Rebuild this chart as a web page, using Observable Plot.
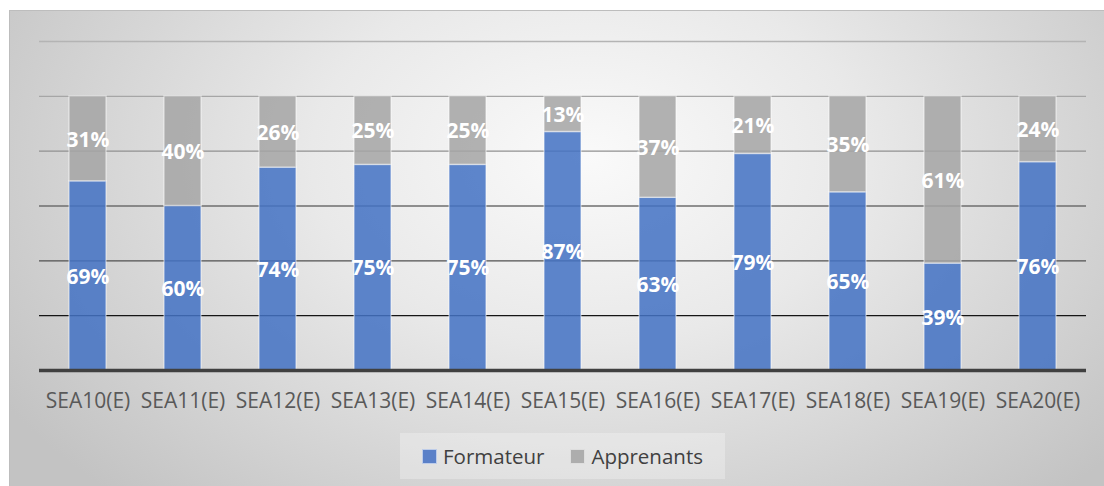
<!DOCTYPE html>
<html>
<head>
<meta charset="utf-8">
<script src="https://cdn.jsdelivr.net/npm/d3@7"></script>
<script src="https://cdn.jsdelivr.net/npm/@observablehq/plot@0.6"></script>
<style>
  html, body { margin: 0; padding: 0; background: #ffffff; }
  body { width: 1104px; height: 486px; overflow: hidden; position: relative; font-family: "Open Sans", sans-serif; }
  #frame {
    position: absolute; left: 9px; top: 10px; width: 1110px; height: 490px;
    border: 1px solid #bdbdbd; box-sizing: border-box;
    background: radial-gradient(ellipse 62% 95% at 52% 30%, #fafafa 0%, #e9e9e9 40%, #d6d6d6 70%, #c3c3c3 100%);
  }
  #chart { position: absolute; left: 0; top: 0; }
  #legend {
    position: absolute; left: 400px; top: 433px; width: 325px; height: 46px;
    background: rgba(255,255,255,0.28);
    display: flex; align-items: center; justify-content: center; gap: 26px;
    font-size: 20.5px; color: #404040;
  }
  .item { display: flex; align-items: center; gap: 6px; }
  .sw { width: 13px; height: 13px; border: 1px solid rgba(255,255,255,0.6); }
</style>
</head>
<body>
<div id="frame"></div>
<div id="chart"></div>
<div id="legend"></div>
<script>
const categories = ["SEA10(E)", "SEA11(E)", "SEA12(E)", "SEA13(E)", "SEA14(E)", "SEA15(E)", "SEA16(E)", "SEA17(E)", "SEA18(E)", "SEA19(E)", "SEA20(E)"];
const seriesNames = ["Formateur", "Apprenants"];
const formateur = [69, 60, 74, 75, 75, 87, 63, 79, 65, 39, 76];
const apprenants = [31, 40, 26, 25, 25, 13, 37, 21, 35, 61, 24];
const gridTicks = [0.2, 0.4, 0.6, 0.8, 1.0, 1.2];

const colors = {Formateur: "#4472C4", Apprenants: "#A5A5A5"};
const gridColor = v => ({0.2: "#151515", 0.4: "#505050", 0.6: "#6e6e6e", 0.8: "#909090", 1: "#a6a6a6", 1.2: "#b4b4b4"})[Math.round(v * 10) / 10];

const rows = [];
categories.forEach((c, i) => rows.push({cat: c, series: "Formateur", value: formateur[i] / 100}));
categories.forEach((c, i) => rows.push({cat: c, series: "Apprenants", value: apprenants[i] / 100}));

const plot = Plot.plot({
  width: 1104,
  height: 430,
  marginLeft: 39,
  marginRight: 18,
  marginTop: 41,
  marginBottom: 60,
  style: {background: "transparent", fontFamily: "'Open Sans', sans-serif", overflow: "visible"},
  x: {domain: categories, paddingInner: 0.61, paddingOuter: 0.305, label: null},
  y: {domain: [0, 1.2], axis: null},
  color: {domain: seriesNames, range: [colors.Formateur, colors.Apprenants]},
  marks: [
    Plot.ruleY(gridTicks, {stroke: d => gridColor(d), strokeWidth: 1.4}),
    Plot.barY(rows, Plot.stackY({x: "cat", y: "value", z: "series", fill: "series", fillOpacity: 0.86, stroke: "#ffffff", strokeOpacity: 0.45, strokeWidth: 1.5})),
    Plot.ruleY([0], {stroke: "#404040", strokeWidth: 3.5}),
    Plot.text(rows, Plot.stackY({x: "cat", y: "value", z: "series", text: d => Math.round(d.value * 100) + "%", fill: "#ffffff", fontSize: 21, fontWeight: "bold", dy: 1})),
    Plot.axisX({tickSize: 0, tickPadding: 23, fontSize: 21, fill: "#595959", label: null})
  ]
});
document.getElementById("chart").appendChild(plot);

const legend = document.getElementById("legend");
seriesNames.forEach(s => {
  const item = document.createElement("div");
  item.className = "item";
  const sw = document.createElement("div");
  sw.className = "sw";
  sw.style.background = s === "Formateur" ? "#5a80c8" : "#adadad";
  const t = document.createElement("span");
  t.textContent = s;
  item.appendChild(sw);
  item.appendChild(t);
  legend.appendChild(item);
});
</script>
</body>
</html>
